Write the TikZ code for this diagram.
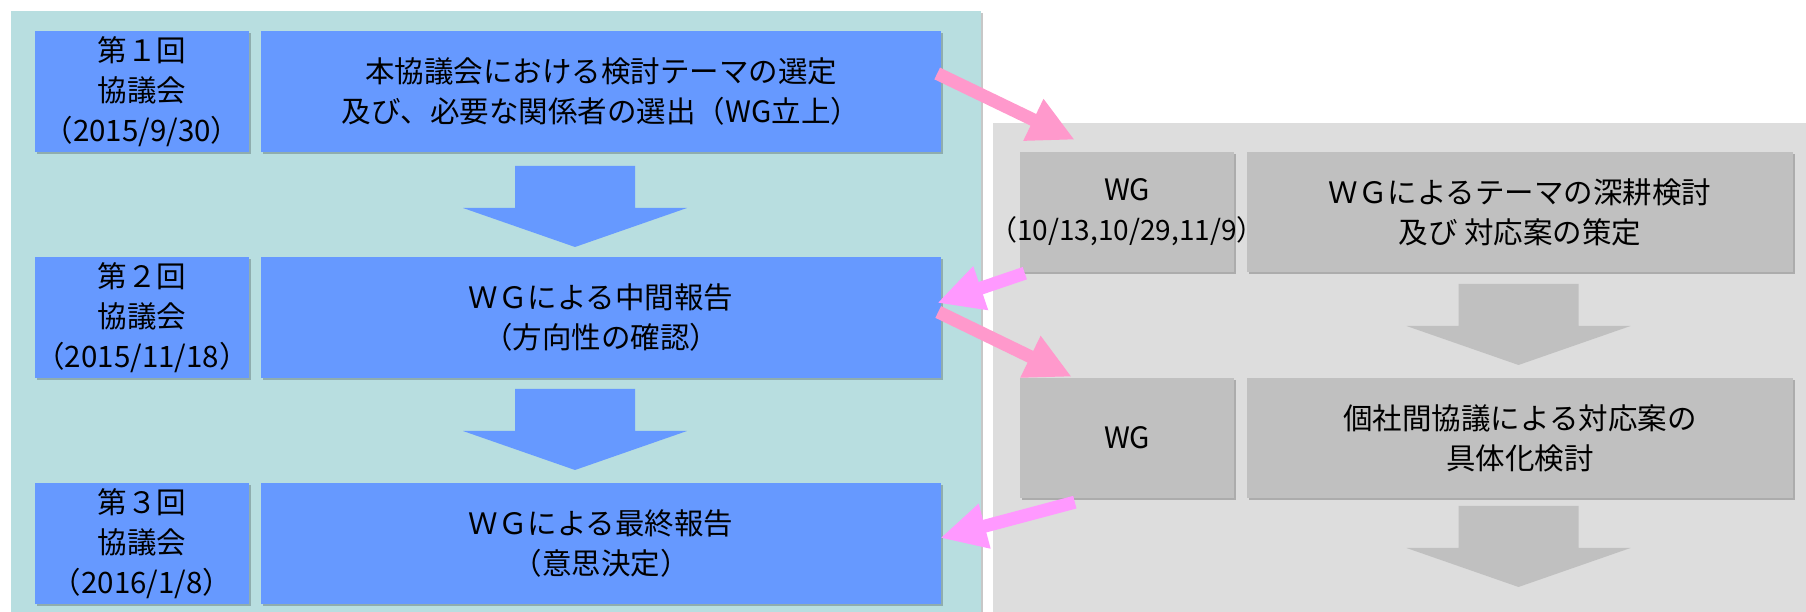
\documentclass[tikz,border=0pt]{standalone}
\usepackage{fontspec}
\setmainfont{Noto Sans CJK JP}
\usetikzlibrary{arrows.meta,shadows}
\definecolor{panelblue}{HTML}{B8DEE0}
\definecolor{boxblue}{HTML}{6699FF}
\definecolor{panelgray}{HTML}{DDDDDD}
\definecolor{boxgray}{HTML}{C0C0C0}
\definecolor{pinkA}{HTML}{FF99CC}
\definecolor{pinkB}{HTML}{FF99FF}
\newcommand{\blockarrow}[3]{%
  \fill[#3] (#1-60,#2) -- (#1+60,#2) -- (#1+60,#2-42) -- (#1+112,#2-42)
    -- (#1,#2-81) -- (#1-112,#2-42) -- (#1-60,#2-42) -- cycle;}
\tikzset{
  softshadow/.style={drop shadow={shadow xshift=2pt,shadow yshift=-2pt,fill=black,opacity=0.22}},
  box/.style={inner sep=0pt,align=center,minimum width=214pt,minimum height=121pt,softshadow,
    font=\fontsize{29.5}{40}\selectfont},
  bluebox/.style={box,fill=boxblue},
  graybox/.style={box,fill=boxgray,minimum height=120pt},
  pinkarrow/.style={line width=13pt,-{Triangle[length=46pt,width=43pt]}}
}
\begin{document}
\begin{tikzpicture}[x=1pt,y=1pt]
  \useasboundingbox (0,0) rectangle (1806,612);
  \fill[panelblue,softshadow] (11,-5) rectangle (981,601);
  \fill[panelgray] (993,0) rectangle (1806,489);
  \blockarrow{575}{446}{boxblue}
  \blockarrow{575}{223}{boxblue}
  \blockarrow{1518.5}{328}{boxgray}
  \blockarrow{1518.5}{106}{boxgray}
  \node[bluebox] (l1) at (142,520.5) {第１回\\協議会\\（2015/9/30）};
  \node[bluebox] (l2) at (142,294) {第２回\\協議会\\\makebox[0pt]{（2015/11/18）}};
  \node[bluebox] (l3) at (142,68.5) {第３回\\協議会\\（2016/1/8）};
  \node[bluebox,minimum width=680pt] (m1) at (601,520.5) {本協議会における検討テーマの選定\\及び、必要な関係者の選出（WG立上）};
  \node[bluebox,minimum width=680pt] (m2) at (601,294) {ＷＧによる中間報告\\（方向性の確認）};
  \node[bluebox,minimum width=680pt] (m3) at (601,68.5) {ＷＧによる最終報告\\（意思決定）};
  \node[graybox,minimum width=546pt] (t1) at (1520,400) {ＷＧによるテーマの深耕検討\\及び 対応案の策定};
  \node[graybox,minimum width=546pt] (t2) at (1520,174) {個社間協議による対応案の\\具体化検討};
  \node[graybox] (w1) at (1127,400) {WG\\\makebox[0pt]{\fontsize{28}{40}\selectfont（10/13,10/29,11/9）}};
  \node[graybox] (w2) at (1127,174) {WG};
  \begin{scope}[pinkarrow]
    \draw[pinkA] ([xshift=-4pt,yshift=18pt]m1.east) to ([xshift=55pt,yshift=12pt]w1.north west);
    \draw[pinkB] ([xshift=5pt,yshift=-1pt]w1.south west) to ([xshift=-4pt,yshift=15pt]m2.east);
    \draw[pinkA] ([xshift=-3pt,yshift=6pt]m2.east) to ([xshift=52pt,yshift=1pt]w2.north west);
    \draw[pinkB] ([xshift=55pt,yshift=-4pt]w2.south west) to ([xshift=-1pt,yshift=5.5pt]m3.east);
  \end{scope}
\end{tikzpicture}
\end{document}
